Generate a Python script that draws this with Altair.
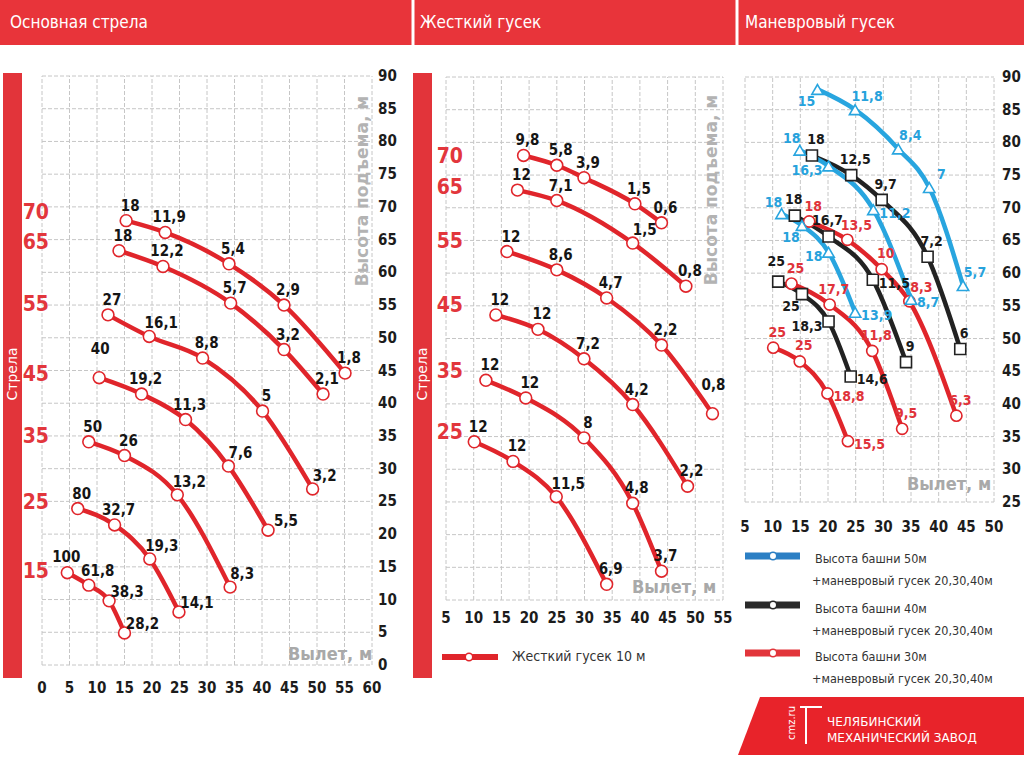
import altair as alt
import pandas as pd

# ====================== DATA ======================
# --- Панель 1: Основная стрела (main boom) ---
main_booms = [70, 65, 55, 45, 35, 25, 15]
main_boom_label_height = [69.1, 64.5, 55.0, 44.3, 34.9, 24.8, 14.2]
main_radius = [
    [15.3, 22.4, 34.0, 44.0, 55.1],
    [14.0, 22.0, 34.3, 44.0, 51.1],
    [12.0, 19.5, 29.2, 40.1, 49.2],
    [10.4, 18.1, 26.1, 33.9, 41.1],
    [8.5, 15.0, 24.6, 34.2],
    [6.5, 13.2, 19.6, 24.9],
    [4.6, 8.5, 12.2, 15.0],
]
main_height = [
    [67.9, 66.1, 61.3, 55.0, 44.6],
    [63.3, 60.9, 55.3, 48.2, 41.4],
    [53.5, 50.2, 46.9, 38.8, 26.9],
    [43.9, 41.4, 37.5, 30.4, 20.6],
    [34.1, 32.0, 26.0, 11.9],
    [23.9, 21.4, 16.2, 8.1],
    [14.1, 12.2, 9.8, 4.9],
]
main_load = [
    [18, 11.9, 5.4, 2.9, 1.8],
    [18, 12.2, 5.7, 3.2, 2.1],
    [27, 16.1, 8.8, 5, 3.2],
    [40, 19.2, 11.3, 7.6, 5.5],
    [50, 26, 13.2, 8.3],
    [80, 32.7, 19.3, 14.1],
    [100, 61.8, 38.3, 28.2],
]
main_x_ticks = [0, 5, 10, 15, 20, 25, 30, 35, 40, 45, 50, 55, 60]
main_y_ticks = [0, 5, 10, 15, 20, 25, 30, 35, 40, 45, 50, 55, 60, 65, 70, 75, 80, 85, 90]

# --- Панель 2: Жесткий гусек (fixed jib) ---
jib_booms = [70, 65, 55, 45, 35, 25]
jib_boom_label_height = [77.7, 73.0, 64.8, 54.9, 44.8, 35.5]
jib_radius = [
    [19.0, 25.0, 29.9, 39.1, 43.9],
    [17.9, 25.0, 38.7, 48.3],
    [16.0, 25.0, 34.0, 43.9, 53.1],
    [14.0, 21.6, 29.9, 38.7, 48.6],
    [12.2, 19.4, 29.9, 38.7, 43.9],
    [10.1, 17.1, 24.9, 34.0],
]
jib_height = [
    [78.0, 76.5, 74.6, 70.6, 67.7],
    [72.7, 71.1, 64.6, 58.0],
    [63.3, 60.5, 56.2, 49.0, 38.5],
    [53.6, 51.4, 46.9, 39.9, 27.4],
    [43.6, 40.9, 34.8, 24.8, 14.4],
    [34.2, 31.2, 25.8, 12.4],
]
jib_load = [
    [9.8, 5.8, 3.9, 1.5, 0.6],
    [12, 7.1, 1.5, 0.8],
    [12, 8.6, 4.7, 2.2, 0.8],
    [12, 12, 7.2, 4.2, 2.2],
    [12, 12, 8, 4.8, 3.7],
    [12, 12, 11.5, 6.9],
]
jib_x_ticks = [5, 10, 15, 20, 25, 30, 35, 40, 45, 50, 55]
jib_y_ticks = [10, 15, 20, 25, 30, 35, 40, 45, 50, 55, 60, 65, 70, 75, 80, 85, 90]

# --- Панель 3: Маневровый гусек (luffing jib) ---
luff_series = ["Высота башни 50м", "Высота башни 40м", "Высота башни 30м"]
luff_radius = [
    [[18.1, 24.9, 32.7, 38.3, 44.4], [14.9, 20.1, 28.2, 35.0], [11.6, 15.3, 20.1, 24.9]],
    [[17.1, 24.2, 29.7, 38.0, 43.9], [14.0, 20.1, 28.1, 34.1], [11.0, 15.3, 20.1, 24.1]],
    [[16.6, 23.5, 29.7, 34.7, 43.2], [13.4, 20.3, 28.0, 33.4], [10.1, 14.9, 19.9, 23.6]],
]
luff_height = [
    [[88.1, 85.0, 79.0, 73.1, 58.1], [78.8, 76.4, 69.7, 56.0], [69.1, 67.3, 63.2, 54.0]],
    [[78.0, 75.0, 71.2, 62.5, 48.4], [68.8, 65.6, 59.0, 46.4], [58.7, 56.8, 52.6, 44.2]],
    [[67.9, 65.1, 60.6, 55.7, 38.2], [58.4, 55.2, 48.1, 36.2], [48.6, 46.5, 41.6, 34.3]],
]
luff_load = [
    [[15, 11.8, 8.4, 7, 5.7], [18, 16.3, 11.2, 8.7], [18, 18, 18, 13.9]],
    [[18, 12.5, 9.7, 7.2, 6], [18, 16.7, 11.5, 9], [25, 25, 18.3, 14.6]],
    [[18, 13.5, 10, 8.3, 6.3], [25, 17.7, 11.8, 9.5], [25, 25, 18.8, 15.5]],
]
luff_x_ticks = [5, 10, 15, 20, 25, 30, 35, 40, 45, 50]
luff_y_ticks = [25, 30, 35, 40, 45, 50, 55, 60, 65, 70, 75, 80, 85, 90]

# ====================== LAYOUT / STYLE ======================
# where each capacity label sits relative to its point (layout only)
main_label_side = [
    ["a", "a", "a", "a", "a"],
    ["a", "a", "a", "a", "a"],
    ["a", "ar", "a", "a", "ar"],
    ["aa", "a", "a", "ar", "ar2"],
    ["a", "a", "ar", "ar"],
    ["a", "a", "ar", "ar2"],
    ["a0", "a8", "ar2", "ar2"],
]
jib_label_side = [
    ["a", "a", "a", "a", "a"],
    ["a", "a", "ar", "a"],
    ["a", "a", "a", "a", "aa"],
    ["a", "a", "a", "a", "a"],
    ["a", "a", "a", "a", "a"],
    ["a", "a", "ar", "a"],
]
luff_label_side = [
    [["bl", "ar", "ar", "ar", "ar"], ["al", "l", "r", "r"], ["al", "bl", "l", "r"]],
    [["a", "a", "a", "a", "a"], ["a0", "a0", "r", "a"], ["a0h", "bl", "l", "r"]],
    [["a", "a8", "a", "ar", "a"], ["a", "a", "a", "a"], ["a", "a", "r", "r"]],
]
SIDES = {
    "a": dict(align="center", dx=4, dy=-15),
    "a0": dict(align="center", dx=-1, dy=-16),
    "a0h": dict(align="center", dx=-2, dy=-20),
    "a8": dict(align="center", dx=9, dy=-14),
    "aa": dict(align="center", dx=1, dy=-29),
    "ar": dict(align="center", dx=12, dy=-13),
    "ar2": dict(align="center", dx=18, dy=-9),
    "al": dict(align="center", dx=-8, dy=-11),
    "bl": dict(align="center", dx=-11, dy=13),
    "r": dict(align="left", dx=6, dy=4),
    "l": dict(align="right", dx=-6, dy=5),
}

FONT = "Liberation Sans Narrow, DejaVu Sans Condensed, Arial Narrow, sans-serif"
RED = "#e0252b"
BLUE = "#28a5df"
BLACK = "#222222"
GRID = "#c6c6c6"
W, H = 1024, 768
one = pd.DataFrame({"k": [0]})


def fmt(v):
    return f"{v:g}".replace(".", ",")


def build(radius, height, load, side, series=""):
    rows = []
    for c, (rr, hh, ll, ss) in enumerate(zip(radius, height, load, side)):
        for i, (r, h, l, s) in enumerate(zip(rr, hh, ll, ss)):
            rows.append(dict(curve=f"{series}{c}", i=i, r=r, h=h, lab=fmt(l), side=s))
    return pd.DataFrame(rows)


def sc(domain, rng):
    return alt.Scale(domain=domain, range=rng, nice=False, zero=False)


def grid_layers(sx, sy, xd, yd, xt, yt):
    vg = pd.DataFrame({"gx": xt, "gy0": [yd[0]] * len(xt), "gy1": [yd[1]] * len(xt)})
    hg = pd.DataFrame({"gy": yt, "gx0": [xd[0]] * len(yt), "gx1": [xd[1]] * len(yt)})
    fr = pd.DataFrame({"x0": [xd[0]], "x1": [xd[1]], "y0": [yd[0]], "y1": [yd[1]]})
    frame = alt.Chart(fr).mark_rect(fill="white", stroke=None).encode(
        x=alt.X("x0:Q", scale=sx, axis=None), x2="x1:Q",
        y=alt.Y("y0:Q", scale=sy, axis=None), y2="y1:Q")
    v = alt.Chart(vg).mark_rule(color=GRID, strokeDash=[4, 2], strokeWidth=1).encode(
        x=alt.X("gx:Q", scale=sx, axis=None),
        y=alt.Y("gy0:Q", scale=sy, axis=None), y2="gy1:Q")
    h = alt.Chart(hg).mark_rule(color=GRID, strokeDash=[4, 2], strokeWidth=1).encode(
        y=alt.Y("gy:Q", scale=sy, axis=None),
        x=alt.X("gx0:Q", scale=sx, axis=None), x2="gx1:Q")
    return [frame, v, h]


def x_tick_labels(ticks, sx, ypix):
    d = pd.DataFrame({"t": ticks, "s": [str(t) for t in ticks]})
    return alt.Chart(d).mark_text(font=FONT, fontSize=15, fontWeight="bold", color="#1c1c1c",
                                  align="center", baseline="middle").encode(
        x=alt.X("t:Q", scale=sx, axis=None), y=alt.value(ypix), text="s:N")


def y_tick_labels(ticks, sy, xpix):
    d = pd.DataFrame({"t": ticks, "s": [str(t) for t in ticks]})
    return alt.Chart(d).mark_text(font=FONT, fontSize=15, fontWeight="bold", color="#1c1c1c",
                                  align="left", baseline="middle").encode(
        y=alt.Y("t:Q", scale=sy, axis=None), x=alt.value(xpix), text="s:N")


def curve_parts(df, sx, sy, color, label_color, shape, size, fsize=15):
    X = alt.X("r:Q", scale=sx, axis=None)
    Y = alt.Y("h:Q", scale=sy, axis=None)
    base = alt.Chart(df)
    line = base.mark_line(interpolate="monotone", strokeWidth=4.5, color=color,
                          strokeCap="round").encode(x=X, y=Y, detail="curve:N", order="i:Q")
    pts = base.mark_point(shape=shape, filled=True, fill="white", stroke=color, strokeWidth=1.6,
                          size=size, opacity=1).encode(x=X, y=Y)
    texts = []
    for code, kw in SIDES.items():
        if (df["side"] == code).any():
            texts.append(base.transform_filter(alt.datum.side == code).mark_text(
                font=FONT, fontSize=fsize, fontWeight="bold", color=label_color,
                baseline="middle", **kw).encode(x=X, y=Y, text="lab:N"))
    return line, pts, texts


def box(x, x2, y, y2, color, **kw):
    return alt.Chart(one).mark_rect(color=color, **kw).encode(
        x=alt.value(x), x2=alt.value(x2), y=alt.value(y), y2=alt.value(y2))


def txt(text, x, y, **kw):
    return alt.Chart(one).mark_text(text=text, **kw).encode(x=alt.value(x), y=alt.value(y))


def hrule(x, x2, y, color, width):
    return alt.Chart(one).mark_rule(color=color, strokeWidth=width).encode(
        x=alt.value(x), x2=alt.value(x2), y=alt.value(y))


def vrule(x, y, y2, color, width):
    return alt.Chart(one).mark_rule(color=color, strokeWidth=width).encode(
        x=alt.value(x), y=alt.value(y), y2=alt.value(y2))


def dot(x, y, color, size=55):
    return alt.Chart(one).mark_point(shape="circle", filled=True, fill="white", stroke=color,
                                     strokeWidth=1.5, size=size, opacity=1).encode(
        x=alt.value(x), y=alt.value(y))


# ====================== PANEL 1 ======================
sx1 = sc([0, 60], [42, 372])
sy1 = sc([0, 90], [665, 76])
df1 = build(main_radius, main_height, main_load, main_label_side)
l1, p1, t1 = curve_parts(df1, sx1, sy1, RED, "#151515", "circle", 140)
bl1 = pd.DataFrame({"b": [str(b) for b in main_booms], "hb": main_boom_label_height})
boom1 = alt.Chart(bl1).mark_text(font=FONT, fontSize=21, fontWeight="bold", color="#e2363c",
                                 align="right", baseline="middle").encode(
    x=alt.value(49), y=alt.Y("hb:Q", scale=sy1, axis=None), text="b:N")
panel1 = alt.layer(
    *grid_layers(sx1, sy1, [0, 60], [0, 90], main_x_ticks, main_y_ticks),
    x_tick_labels(main_x_ticks, sx1, 688), y_tick_labels(main_y_ticks, sy1, 378),
    l1, p1, *t1, boom1)

# ====================== PANEL 2 ======================
sx2 = sc([5, 55], [446, 723])
sy2 = sc([10, 90], [600, 77])
df2 = build(jib_radius, jib_height, jib_load, jib_label_side)
l2, p2, t2 = curve_parts(df2, sx2, sy2, RED, "#151515", "circle", 140)
bl2 = pd.DataFrame({"b": [str(b) for b in jib_booms], "hb": jib_boom_label_height})
boom2 = alt.Chart(bl2).mark_text(font=FONT, fontSize=21, fontWeight="bold", color="#e2363c",
                                 align="right", baseline="middle").encode(
    x=alt.value(463), y=alt.Y("hb:Q", scale=sy2, axis=None), text="b:N")
panel2 = alt.layer(
    *grid_layers(sx2, sy2, [5, 55], [10, 90], jib_x_ticks, jib_y_ticks),
    x_tick_labels(jib_x_ticks, sx2, 618),
    l2, p2, *t2, boom2)

# ====================== PANEL 3 ======================
sx3 = sc([5, 50], [745, 994])
sy3 = sc([25, 90], [502, 77])
luff_line_colors = [BLUE, BLACK, RED]
luff_text_colors = ["#27a2dc", "#1a1a1a", "#e0333a"]
luff_shapes = ["triangle-up", "square", "circle"]
luff_sizes = [130, 121, 125]
lines3, pts3, texts3 = [], [], []
for s in [1, 2, 0]:
    d = build(luff_radius[s], luff_height[s], luff_load[s], luff_label_side[s], series=f"s{s}_")
    l, p, t = curve_parts(d, sx3, sy3, luff_line_colors[s], luff_text_colors[s],
                          luff_shapes[s], luff_sizes[s], fsize=14)
    lines3.append(l)
    pts3.append(p)
    texts3.extend(t)
panel3 = alt.layer(
    *grid_layers(sx3, sy3, [5, 50], [25, 90], luff_x_ticks, luff_y_ticks),
    x_tick_labels(luff_x_ticks, sx3, 527), y_tick_labels(luff_y_ticks, sy3, 1002),
    *lines3, *pts3, *texts3)

# ====================== DECORATION ======================
HEAD = "#e8343a"
back = alt.layer(
    box(0, 1024, 0, 45, HEAD),
    vrule(413, 0, 46, "white", 3),
    vrule(737, 0, 46, "white", 3),
    box(3, 22, 73, 678, "#e2343a"),
    box(413, 432, 73, 678, "#e2343a"),
)
HF = dict(font=FONT, fontSize=17, color="white", align="left", baseline="middle")
LF = dict(font=FONT, fontSize=12.5, color="#333333", align="left", baseline="middle")
TF = dict(font=FONT, fontSize=18, fontWeight="bold", color="#a9a9a9", align="center", baseline="middle")
front = alt.layer(
    txt("Основная стрела", 10, 23, **HF),
    txt("Жесткий гусек", 420, 23, **HF),
    txt("Маневровый гусек", 745, 23, **HF),
    txt("Стрела", 13, 374, font="DejaVu Sans", fontSize=14, color="white", angle=270,
        align="center", baseline="middle"),
    txt("Стрела", 423, 374, font="DejaVu Sans", fontSize=14, color="white", angle=270,
        align="center", baseline="middle"),
    txt("Высота подъема, м", 363, 191, font="DejaVu Sans", fontSize=17, fontWeight="bold",
        color="#b3b3b3", angle=270, align="center", baseline="middle"),
    txt("Высота подъема, м", 712, 190, font="DejaVu Sans", fontSize=17, fontWeight="bold",
        color="#b3b3b3", angle=270, align="center", baseline="middle"),
    txt("Вылет, м", 330, 655, **TF),
    txt("Вылет, м", 674, 588, **TF),
    txt("Вылет, м", 949, 485, **TF),
    # legend panel 2
    hrule(442, 498, 657, RED, 6), dot(469, 657, RED),
    txt("Жесткий гусек 10 м", 512, 657, font=FONT, fontSize=14, color="#333333",
        align="left", baseline="middle"),
    # legend panel 3
    hrule(745, 800, 556, "#2b7fc4", 7), dot(773, 556, "#2b7fc4"),
    txt("Высота башни 50м", 815, 559, **LF),
    txt("+маневровый гусек 20,30,40м", 812, 581, **LF),
    hrule(745, 800, 605, "#2a2a2a", 7), dot(773, 605, "#2a2a2a"),
    txt("Высота башни 40м", 815, 609, **LF),
    txt("+маневровый гусек 20,30,40м", 812, 631, **LF),
    hrule(745, 800, 653, "#e2353b", 7), dot(773, 653, "#e2353b"),
    txt("Высота башни 30м", 815, 657, **LF),
    txt("+маневровый гусек 20,30,40м", 812, 679, **LF),
    # banner
    alt.Chart(one).mark_point(shape="M-0.846,-0.203L1,-0.203L1,0.203L-1,0.203Z", size=286 * 286,
                              filled=True, color="#e8232a", opacity=1, strokeWidth=0).encode(
        x=alt.value(881), y=alt.value(726)),
    txt("cmz.ru", 792, 723, font="DejaVu Sans", fontSize=10, color="white", angle=270,
        align="center", baseline="middle"),
    vrule(806, 707, 744, "white", 2),
    hrule(800, 822, 707, "white", 2),
    txt("ЧЕЛЯБИНСКИЙ", 827, 722, font="DejaVu Sans", fontSize=12, color="white",
        align="left", baseline="middle"),
    txt("МЕХАНИЧЕСКИЙ ЗАВОД", 827, 738, font="DejaVu Sans", fontSize=12, color="white",
        align="left", baseline="middle"),
)

chart = alt.layer(back, panel1, panel2, panel3, front).resolve_scale(
    x="independent", y="independent"
).properties(
    width=W, height=H, padding=0, background="white",
    autosize=alt.AutoSizeParams(type="none"),
).configure_view(stroke=None)

chart.save("out.html", embed_options={"renderer": "svg", "actions": False})
